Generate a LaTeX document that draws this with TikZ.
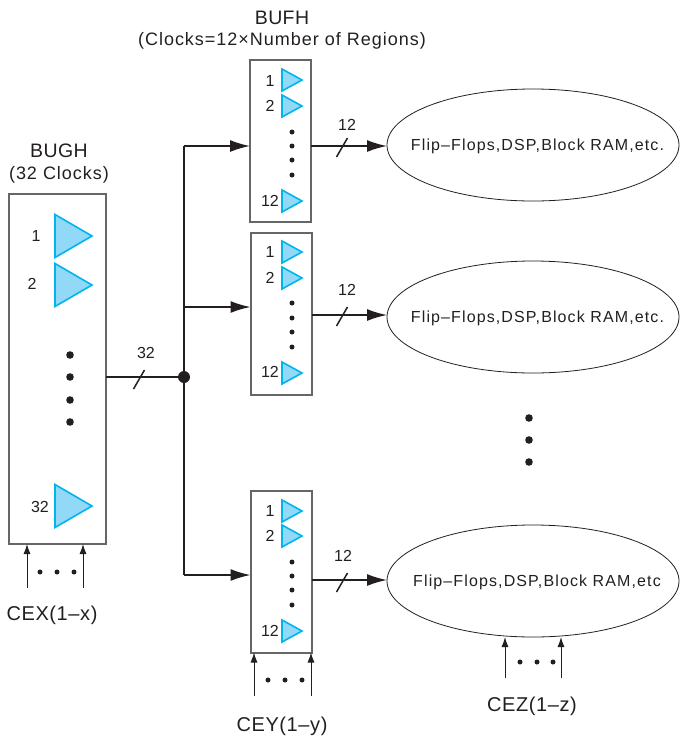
\documentclass[tikz,border=0pt]{standalone}
\usepackage{fontspec}
\setmainfont{Liberation Sans}
\usetikzlibrary{arrows.meta,shapes.geometric}
\definecolor{boxgray}{HTML}{666666}
\definecolor{triline}{HTML}{00B5EC}
\definecolor{trifill}{HTML}{92D8F7}
\definecolor{ink}{HTML}{231F20}
\newcommand{\fs}[2]{\fontsize{#1}{#1}\selectfont\addfontfeatures{LetterSpace=#2}}
\newcommand{\bigtri}[2]{\draw[trist] (#1,#2-21.5) -- (#1+37,#2) -- (#1,#2+21.5) -- cycle;}
\newcommand{\smalltri}[2]{\draw[trist] (#1,#2-11) -- (#1+20,#2) -- (#1,#2+11) -- cycle;}
\newcommand{\slashmark}[2]{\draw[line width=1.5pt,ink] (#1-5.5,#2+11) -- (#1+5.5,#2-8);}
\newcommand{\bigdot}[2]{\fill[ink] (#1,#2) circle (3.8);}
\newcommand{\smdot}[2]{\fill[ink] (#1,#2) circle (2.5);}
\tikzset{
  x=1pt,y=-1pt,
  every node/.style={text=ink,inner sep=0pt,outer sep=0pt},
  trist/.style={draw=triline,fill=trifill,line width=1.6pt,line join=miter},
  bufbox/.style={draw=boxgray,line width=2pt,fill=white,minimum width=61pt,minimum height=162pt},
  load/.style={draw=ink,line width=0.8pt,ellipse,minimum width=292pt,minimum height=112pt},
  wire/.style={draw=ink,line width=1.6pt},
  feed/.style={wire,-{Latex[length=20pt,width=12pt]}},
  ctrl/.style={draw=ink,line width=0.9pt,-{Latex[length=10pt,width=7pt]}},
  num/.style={font=\fs{16}{0}},
  ttl/.style={font=\fs{19.5}{2}},
  sub/.style={font=\fs{18}{5.5}},
  lbl/.style={font=\fs{16}{7}},
  cel/.style={font=\fs{20}{3}},
}
\begin{document}
\begin{tikzpicture}
\useasboundingbox (0,0) rectangle (680,737);
% boxes
\node[bufbox,minimum width=97pt,minimum height=350pt] (bugh) at (57.5,369) {};
\node[bufbox] (b1) at (280.5,141) {};
\node[bufbox] (b2) at (281,313.5) {};
\node[bufbox] (b3) at (281,571.5) {};
\node[load] (e1) at (533,145) {};
\node[load] (e2) at (533,317) {};
\node[load] (e3) at (533,581) {};
% titles
\node[ttl] (t1) at (282,18) {BUFH};
\node[sub] (t2) at (282,41) {(Clocks=12×Number of Regions)};
\node[ttl] (t3) at (59,151) {BUGH};
\node[sub] (t4) at (59,175) {(32 Clocks)};
% big triangles
\bigtri{55}{236}\bigtri{55}{285}\bigtri{55}{506}
\node[num] (n1) at (36,236) {1};
\node[num] (n2) at (32,284) {2};
\node[num] (n3) at (40,507) {32};
\bigdot{70}{355}\bigdot{70}{377}\bigdot{70}{400}\bigdot{70}{422}
% small triangles
\smalltri{282}{80}\smalltri{282}{106}\smalltri{282}{201}
\node[num] (a1) at (270,81) {1};
\node[num] (a2) at (270,106) {2};
\node[num] (a3) at (270,201) {12};
\smdot{292}{132}\smdot{292}{146}\smdot{292}{160}\smdot{292}{175}
\smalltri{282}{252}\smalltri{282}{278}\smalltri{282}{373}
\node[num] (c1) at (270,252) {1};
\node[num] (c2) at (270,278) {2};
\node[num] (c3) at (270,372) {12};
\smdot{292}{303}\smdot{292}{318}\smdot{292}{332}\smdot{292}{347}
\smalltri{282}{511}\smalltri{282}{536}\smalltri{282}{631}
\node[num] (d1) at (270,511) {1};
\node[num] (d2) at (270,536) {2};
\node[num] (d3) at (270,631) {12};
\smdot{292}{562}\smdot{292}{576}\smdot{292}{590}\smdot{292}{605}
% junction and connectors
\coordinate (jn) at (184,377);
\coordinate (j1) at (184,146);
\coordinate (j2) at (184,307);
\coordinate (j3) at (184,575);
\fill[ink] (jn) circle (6);
\draw[wire] (bugh.east |- jn) -- (jn);
\draw[wire] (j1) -- (j3);
\draw[feed] (j1) -- (b1.west |- j1);
\draw[feed] (j2) -- (b2.west |- j2);
\draw[feed] (j3) -- (b3.west |- j3);
\coordinate (o1) at (311,146);
\coordinate (o2) at (312,315);
\coordinate (o3) at (312,580);
\draw[feed] (o1) -- (e1.west |- o1);
\draw[feed] (o2) -- (e2.west |- o2);
\draw[feed] (o3) -- (e3.west |- o3);
\slashmark{342}{146}\slashmark{342}{315}\slashmark{342}{581}
\slashmark{139}{378}
\node[num] (w1) at (347,125) {12};
\node[num] (w2) at (347,290) {12};
\node[num] (w3) at (343,556) {12};
\node[num] (w4) at (146,353) {32};
% ellipse text
\node[lbl] (f1) at (537.5,146) {Flip–Flops,DSP,Block RAM,etc.};
\node[lbl] (f2) at (537.5,318.5) {Flip–Flops,DSP,Block RAM,etc.};
\node[lbl] (f3) at (537,582) {Flip–Flops,DSP,Block RAM,etc};
\bigdot{529}{418}\bigdot{529}{440}\bigdot{529}{462}
% control inputs
\coordinate (x1) at (27,588); \coordinate (x2) at (83,588);
\coordinate (y1) at (254,696); \coordinate (y2) at (311,696);
\coordinate (z1) at (505,678); \coordinate (z2) at (561,678);
\draw[ctrl] (x1) -- (x1 |- bugh.south);
\draw[ctrl] (x2) -- (x2 |- bugh.south);
\draw[ctrl] (y1) -- (y1 |- b3.south);
\draw[ctrl] (y2) -- (y2 |- b3.south);
\draw[ctrl] (z1) -- (505,637);
\draw[ctrl] (z2) -- (561,637);
\smdot{40}{572}\smdot{57}{572}\smdot{74}{572}
\smdot{268}{680}\smdot{285}{680}\smdot{302}{680}
\smdot{520}{662}\smdot{537}{662}\smdot{553}{662}
\node[cel] (l1) at (52,615) {CEX(1–x)};
\node[cel] (l2) at (282,726) {CEY(1–y)};
\node[cel] (l3) at (532,706) {CEZ(1–z)};
\end{tikzpicture}
\end{document}
